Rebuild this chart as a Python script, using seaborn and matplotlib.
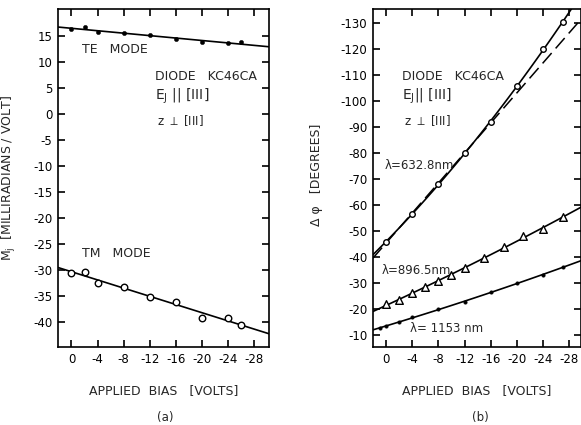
import numpy as np
import pandas as pd
import matplotlib
matplotlib.use("Agg")
import matplotlib.pyplot as plt
import seaborn as sns

# ---- (a) Mj vs bias ----
te_bias = [0, -2, -4, -8, -12, -16, -20, -24, -26]
te_mj = [16.3, 16.7, 15.8, 15.6, 15.2, 14.4, 13.8, 13.6, 13.8]
tm_bias = [0, -2, -4, -8, -12, -16, -20, -24, -26]
tm_mj = [-30.6, -30.5, -32.5, -33.4, -35.3, -36.3, -39.3, -39.3, -40.6]

# ---- (b) delta phi vs bias ----
b632_bias = [0, -4, -8, -12, -16, -20, -24, -27]
b632_phi = [-45.9, -56.5, -68.0, -80.0, -92.0, -105.7, -120.0, -130.4]
b896_bias = [0, -2, -4, -6, -8, -10, -12, -15, -18, -21, -24, -27]
b896_phi = [-21.7, -23.4, -26.0, -28.4, -30.8, -33.1, -35.8, -39.6, -43.7, -48.0, -50.8, -55.3]
b1153_bias = [1, 0, -2, -4, -8, -12, -16, -20, -24, -27]
b1153_phi = [-12.5, -13.3, -15.0, -16.9, -19.8, -22.7, -26.3, -29.8, -33.0, -36.2]

bias_ticks = [0, -4, -8, -12, -16, -20, -24, -28]
mj_ticks = [15, 10, 5, 0, -5, -10, -15, -20, -25, -30, -35, -40]
phi_ticks = [-10, -20, -30, -40, -50, -60, -70, -80, -90, -100, -110, -120, -130]

sns.set_style("ticks")
plt.rcParams["font.family"] = ["DejaVu Sans"]
plt.rcParams["axes.unicode_minus"] = False
plt.rcParams["axes.linewidth"] = 1.2

fig = plt.figure(figsize=(5.81, 4.25), dpi=100)
ax1 = fig.add_axes([58 / 581, 1 - 347 / 425, 211 / 581, 338 / 425])
ax2 = fig.add_axes([373 / 581, 1 - 347 / 425, 208 / 581, 338 / 425])

line_kw = dict(color="black", lw=1.2)


def style_axis(ax):
    ax.tick_params(direction="in", length=5, width=1.2, top=True, right=True,
                   labelsize=8.5, colors="black", pad=4)
    for s in ax.spines.values():
        s.set_visible(True)
        s.set_color("black")


def note(ax, x, y, s, size=9):
    ax.text(x, y, s, transform=ax.transAxes, fontsize=size, va="center")


# ----- panel (a) -----
ax1.set_xlim(2.07, -30.3)
ax1.set_ylim(-44.9, 20.2)
te = pd.DataFrame({"bias": te_bias, "mj": te_mj})
tm = pd.DataFrame({"bias": tm_bias, "mj": tm_mj})
sns.regplot(data=te, x="bias", y="mj", ax=ax1, scatter=False, ci=None,
            truncate=False, line_kws=line_kw)
sns.regplot(data=tm, x="bias", y="mj", ax=ax1, scatter=False, ci=None,
            truncate=False, line_kws=line_kw)
sns.scatterplot(data=te, x="bias", y="mj", ax=ax1, marker="o", s=10,
                color="black", edgecolor="black", zorder=3)
sns.scatterplot(data=tm, x="bias", y="mj", ax=ax1, marker="o", s=22,
                facecolor="white", edgecolor="black", linewidth=1.0, zorder=3)
ax1.set_xlim(2.07, -30.3)
ax1.set_ylim(-44.9, 20.2)
ax1.set_xticks(bias_ticks)
ax1.set_yticks(mj_ticks)
style_axis(ax1)
ax1.set_xlabel("APPLIED  BIAS   [VOLTS]", fontsize=9, labelpad=13)
ax1.set_ylabel("M$_\\mathrm{j}$  [MILLIRADIANS / VOLT]", fontsize=9)
ax1.yaxis.set_label_coords(-0.19, 0.5)

note(ax1, 0.114, 0.879, "TE   MODE")
note(ax1, 0.114, 0.278, "TM   MODE")
note(ax1, 0.46, 0.799, "DIODE   KC46CA")
note(ax1, 0.46, 0.741, "E$_\\mathrm{J}$ || [III]", 10)
note(ax1, 0.47, 0.669, "z $\\perp$ [III]", 8.5)

# ----- panel (b) -----
ax2.set_xlim(2.0, -29.8)
ax2.set_ylim(-5.3, -135.5)
d632 = pd.DataFrame({"bias": b632_bias, "phi": b632_phi})
d896 = pd.DataFrame({"bias": b896_bias, "phi": b896_phi})
d1153 = pd.DataFrame({"bias": b1153_bias, "phi": b1153_phi})
sns.regplot(data=d632, x="bias", y="phi", ax=ax2, scatter=False, ci=None,
            order=2, truncate=False, line_kws=line_kw)
sns.regplot(data=d632.iloc[:5], x="bias", y="phi", ax=ax2, scatter=False, ci=None,
            truncate=False, line_kws=dict(color="black", lw=1.1, ls=(0, (9, 4))))
sns.regplot(data=d896, x="bias", y="phi", ax=ax2, scatter=False, ci=None,
            order=2, truncate=False, line_kws=line_kw)
sns.regplot(data=d1153, x="bias", y="phi", ax=ax2, scatter=False, ci=None,
            order=2, truncate=False, line_kws=line_kw)
sns.scatterplot(data=d632, x="bias", y="phi", ax=ax2, marker="o", s=16,
                facecolor="white", edgecolor="black", linewidth=1.0, zorder=3)
sns.scatterplot(data=d896, x="bias", y="phi", ax=ax2, marker="^", s=30,
                facecolor="white", edgecolor="black", linewidth=1.0, zorder=3)
sns.scatterplot(data=d1153, x="bias", y="phi", ax=ax2, marker="o", s=7,
                color="black", edgecolor="black", zorder=3)
ax2.set_xlim(2.0, -29.8)
ax2.set_ylim(-5.3, -135.5)
ax2.set_xticks(bias_ticks)
ax2.set_yticks(phi_ticks)
style_axis(ax2)
ax2.set_xlabel("APPLIED  BIAS   [VOLTS]", fontsize=9, labelpad=13)
ax2.set_ylabel("\u0394 \u03c6   [DEGREES]", fontsize=9)
ax2.yaxis.set_label_coords(-0.24, 0.51)

note(ax2, 0.14, 0.799, "DIODE   KC46CA")
note(ax2, 0.14, 0.741, "E$_\\mathrm{J}$|| [III]", 10)
note(ax2, 0.15, 0.669, "z $\\perp$ [III]", 8.5)
note(ax2, 0.058, 0.536, "\u03bb=632.8nm", 8.5)
note(ax2, 0.043, 0.225, "\u03bb=896.5nm", 8.5)
note(ax2, 0.178, 0.056, "\u03bb= 1153 nm", 8.5)

fig.text(165 / 581, 1 - 418 / 425, "(a)", ha="center", va="center", fontsize=8.5)
fig.text(480 / 581, 1 - 418 / 425, "(b)", ha="center", va="center", fontsize=8.5)

fig.savefig("out.png", dpi=100)
